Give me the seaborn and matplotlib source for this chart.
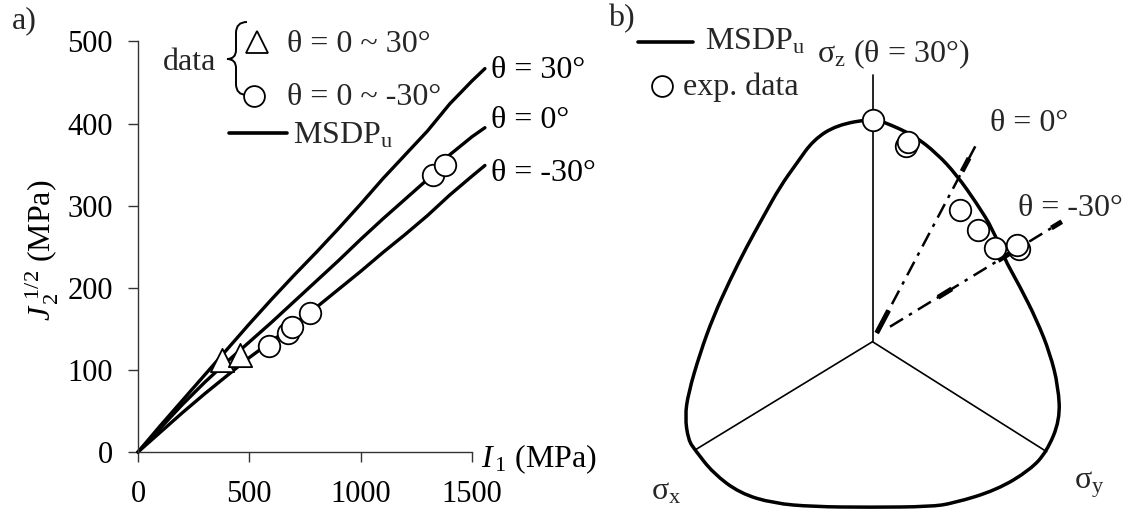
import numpy as np
import pandas as pd
import matplotlib
matplotlib.use("Agg")
import matplotlib.pyplot as plt
from matplotlib.lines import Line2D
from matplotlib.path import Path
from matplotlib.patches import PathPatch
from matplotlib.transforms import Affine2D
import seaborn as sns

sns.set_theme(style="white")
plt.rcParams["font.family"] = ["Liberation Serif", "DejaVu Serif"]
plt.rcParams["mathtext.fontset"] = "custom"
plt.rcParams["mathtext.rm"] = "Liberation Serif"
plt.rcParams["mathtext.it"] = "Liberation Serif:italic"
plt.rcParams["lines.scale_dashes"] = False

# ---------------- panel a: meridians, sqrt(J2) vs I1 (MPa) ----------------
I1_grid = [0, 100, 200, 300, 400, 500, 600, 700, 800, 900, 1000,
           1100, 1200, 1300, 1400, 1500, 1558]
J_theta_p30 = [0, 32, 63, 94, 125, 156, 186, 215, 243, 272, 302,
               333, 362, 391, 424, 452, 467]
J_theta_0 = [0, 29, 58, 85, 110, 134, 158, 183, 208, 233, 259,
             284, 308, 332, 362, 384, 395]
J_theta_m30 = [0, 24, 48, 71, 93, 115, 135, 155, 176, 198, 220,
               243, 265, 288, 313, 336, 349]
curve_names = ["θ = 30°", "θ = 0°", "θ = -30°"]

tri_I1 = [377, 459]
tri_J = [112, 118]
circ_I1 = [590, 673, 691, 773, 1326, 1378]
circ_J = [129, 145, 152, 169, 337, 349]

x_ticks = [0, 500, 1000, 1500]
y_ticks = [0, 100, 200, 300, 400, 500]

# ---------------- panel b: deviatoric (pi-plane) section ----------------
pi_x = [0, -35.8, -59.2, -75.8, -92.5, -109.2, -125.8, -142.5, -159.2,
        -172.5, -184.2, -187.5, -184.2, -177.5, -159.2, -132.5, -99.2,
        -59.2, -2.5, 57.5, 80.8, 124.2, 157.5, 174.2, 187.5, 185.8,
        177.5, 164.2, 147.5, 130.8, 120.8, 104.2, 84.2, 64.2, 40.8, 10.8]
pi_y = [223, 216.7, 201.7, 178.4, 155, 125, 95, 61.7, 25,
        -11.6, -51.6, -75, -98.3, -108.3, -131.6, -151.6, -161.6,
        -165, -165.6, -165, -161.6, -148.3, -128.3, -110, -78.3, -45,
        -11.6, 21.7, 55, 85, 111.7, 138.4, 166.7, 188.4, 206.7, 220]
exp_x = [0.8, 33.5, 35.8, 87.5, 105.8, 122.5, 146.8, 144.2]
exp_y = [221.7, 195.7, 200, 131.7, 111.7, 93.4, 92.4, 96.7]

axis_z = ([0, 0], [0, 266.7])
axis_x = ([0, -177.5], [0, -108.3])
axis_y = ([0, 174.2], [0, -110])
ray_theta0 = ([4.2, 103.5], [8.7, 196.7])
ray_theta_m30 = ([17.5, 189.2], [15, 120])
# heavier dashes along each ray, as fractions of its length
ray_theta0_heavy = [(0.0, 0.12), (0.86, 0.93)]
ray_theta_m30_heavy = [(0.28, 0.36), (0.63, 0.70), (0.94, 1.0)]

W, H = 1129, 521
fig = plt.figure(figsize=(W / 100, H / 100), dpi=100)
px = Affine2D().scale(1 / W, -1 / H).translate(0, 1) + fig.transFigure

TXT = 23
TICK = 22
INK = "black"

# ---------- panel a ----------
axA = fig.add_axes([138 / W, (H - 452) / H, (472 - 138) / W, (452 - 41.5) / H])
axA.set_facecolor("none")
df = pd.DataFrame({
    "I1": I1_grid * 3,
    "J": J_theta_p30 + J_theta_0 + J_theta_m30,
    "curve": sum([[n] * len(I1_grid) for n in curve_names], []),
})
sns.lineplot(data=df, x="I1", y="J", units="curve", estimator=None,
             sort=False, color=INK, lw=2.4, ax=axA, clip_on=False,
             solid_joinstyle="round", solid_capstyle="round")
sns.scatterplot(x=tri_I1, y=tri_J, marker="^", s=280, facecolor="white",
                edgecolor=INK, linewidth=1.3, ax=axA, zorder=5, clip_on=False)
sns.scatterplot(x=circ_I1, y=circ_J, marker="o", s=240, facecolor="white",
                edgecolor=INK, linewidth=1.3, ax=axA, zorder=5, clip_on=False)

axA.set_xlim(0, 1500)
axA.set_ylim(0, 500)
axA.set_xticks(x_ticks)
axA.set_yticks(y_ticks)
sns.despine(ax=axA)
for s in ("left", "bottom"):
    axA.spines[s].set_color("#333333")
    axA.spines[s].set_linewidth(1.0)
axA.tick_params(axis="both", which="major", direction="out", length=7,
                width=1.0, color="#333333", labelsize=TICK, labelcolor=INK,
                left=True, bottom=True)
axA.tick_params(axis="x", pad=13)
axA.tick_params(axis="y", pad=11)
axA.grid(False)

axA.set_ylabel(r"$\mathit{J}_{\,2}^{\ 1/2}$ (MPa)", fontsize=TXT, color=INK,
               ha="center", va="center")
axA.yaxis.set_label_coords(42, 250, transform=px)
axA.set_xlabel(r"$\mathit{I}_{\,1}$ (MPa)", fontsize=TXT, color=INK,
               ha="left", va="baseline")
axA.xaxis.set_label_coords(481, 467, transform=px)

for name, yb in zip(curve_names, [78, 128, 181]):
    fig.text(491, yb, name, transform=px, fontsize=TXT, color=INK,
             ha="left", va="baseline")

# legend of panel a
fig.text(24, 21, "a)", transform=px, fontsize=TXT, ha="center", va="center")
fig.text(216, 70, "data", transform=px, fontsize=TXT, ha="right", va="baseline")
brace = Path(
    [(247, 22), (236, 22), (236, 33), (236, 50), (236, 59), (227, 59),
     (236, 59), (236, 68), (236, 84), (236, 95), (247, 95)],
    [Path.MOVETO, Path.CURVE3, Path.CURVE3, Path.LINETO, Path.CURVE3,
     Path.CURVE3, Path.CURVE3, Path.CURVE3, Path.LINETO, Path.CURVE3,
     Path.CURVE3])
fig.add_artist(PathPatch(brace, transform=px, fill=False, lw=1.4, ec=INK))
fig.add_artist(Line2D([257], [42], transform=px, marker="^", ms=16,
                      mfc="white", mec=INK, mew=1.3, ls="none"))
fig.add_artist(Line2D([254], [96], transform=px, marker="o", ms=15,
                      mfc="white", mec=INK, mew=1.3, ls="none"))
fig.text(287, 52, "θ = 0 ~ 30°", transform=px, fontsize=TXT, ha="left",
         va="baseline")
fig.text(287, 105, "θ = 0 ~ -30°", transform=px, fontsize=TXT, ha="left",
         va="baseline")
fig.add_artist(Line2D([229, 287], [133, 133], transform=px, color=INK, lw=2.6))
fig.text(293, 143, r"MSDP$_\mathrm{u}$", transform=px, fontsize=TXT,
         ha="left", va="baseline")

# ---------- panel b ----------
cx, cy = 872.5, 341.7
axB = fig.add_axes([600 / W, 0, (W - 600) / W, 1])
axB.set_xlim(600 - cx, W - cx)
axB.set_ylim(cy - H, cy)
axB.set_axis_off()

for xs, ys in (axis_z, axis_x, axis_y):
    sns.lineplot(x=xs, y=ys, sort=False, estimator=None, color=INK, lw=1.2,
                 ax=axB)
for (xs, ys), heavy in ((ray_theta0, ray_theta0_heavy),
                        (ray_theta_m30, ray_theta_m30_heavy)):
    sns.lineplot(x=xs, y=ys, sort=False, estimator=None, color=INK, lw=1.8,
                 linestyle=(0, (11, 5, 2.5, 5)), ax=axB)
    p0, p1 = np.array([xs[0], ys[0]]), np.array([xs[1], ys[1]])
    for a, b in heavy:
        qa, qb = p0 + a * (p1 - p0), p0 + b * (p1 - p0)
        axB.plot([qa[0], qb[0]], [qa[1], qb[1]], color=INK, lw=3.6,
                 solid_capstyle="butt")

# yield locus: smooth closed quadratic B-spline through the traced outline
P = np.column_stack([pi_x, pi_y])
M = (P + np.roll(P, -1, axis=0)) / 2
verts = [M[-1]]
for i in range(len(P)):
    verts += [P[i], M[i]]
codes = [Path.MOVETO] + [Path.CURVE3] * (2 * len(P))
axB.add_patch(PathPatch(Path(verts, codes), transform=axB.transData,
                        fill=False, lw=2.5, ec=INK, joinstyle="round"))
sns.scatterplot(x=exp_x, y=exp_y, marker="o", s=240, facecolor="white",
                edgecolor=INK, linewidth=1.3, ax=axB, zorder=5, clip_on=False)

fig.text(621.7, 18.5, "b)", transform=px, fontsize=TXT, ha="center",
         va="center")
fig.add_artist(Line2D([638, 693], [41.7, 41.7], transform=px, color=INK,
                      lw=2.6))
fig.text(705, 50, r"MSDP$_\mathrm{u}$", transform=px, fontsize=TXT,
         ha="left", va="baseline")
fig.add_artist(Line2D([661.7], [86], transform=px, marker="o", ms=15,
                      mfc="white", mec=INK, mew=1.3, ls="none"))
fig.text(683, 95, "exp. data", transform=px, fontsize=TXT, ha="left",
         va="baseline")
fig.text(817, 62, r"σ$_\mathrm{z}$ (θ = 30°)", transform=px, fontsize=TXT,
         ha="left", va="baseline")
fig.text(990, 131, "θ = 0°", transform=px, fontsize=TXT, ha="left",
         va="baseline")
fig.text(1018, 216, "θ = -30°", transform=px, fontsize=TXT, ha="left",
         va="baseline")
fig.text(651, 500, r"σ$_\mathrm{x}$", transform=px, fontsize=TXT, ha="left",
         va="baseline")
fig.text(1074, 489, r"σ$_\mathrm{y}$", transform=px, fontsize=TXT,
         ha="left", va="baseline")

fig.savefig("out.png", dpi=100, facecolor="white")
